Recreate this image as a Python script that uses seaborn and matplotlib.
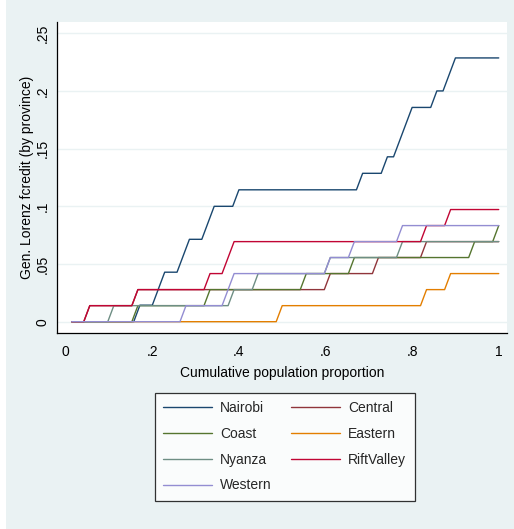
import matplotlib
matplotlib.use("Agg")
import matplotlib.pyplot as plt
from matplotlib.patches import Rectangle
import numpy as np
import pandas as pd
import seaborn as sns

# ---------------- data ----------------
provinces = ["Nairobi", "Central", "Coast", "Eastern", "Nyanza", "RiftValley", "Western"]
colors = ["#1a476f", "#90353b", "#55752f", "#e37e00", "#6e8e84", "#c10534", "#938dd2"]

nairobi_x = [0.0143, 0.1571, 0.1714, 0.2000, 0.2286, 0.2571, 0.2857, 0.3143, 0.3429, 0.3857, 0.4000,
             0.6714, 0.6857, 0.7286, 0.7429, 0.7571, 0.8000, 0.8429, 0.8571, 0.8714, 0.9000, 1.0]
nairobi_y = [0.0, 0.0, 0.0143, 0.0143, 0.0429, 0.0429, 0.0714, 0.0714, 0.1000, 0.1000, 0.1143,
             0.1143, 0.1286, 0.1286, 0.1429, 0.1429, 0.1857, 0.1857, 0.2000, 0.2000, 0.2286, 0.2286]

central_x = [0.0139, 0.0417, 0.0556, 0.1528, 0.1667, 0.5972, 0.6111, 0.7083, 0.7222, 0.8194, 0.8333, 1.0]
central_y = [0.0, 0.0, 0.0139, 0.0139, 0.0278, 0.0278, 0.0417, 0.0417, 0.0556, 0.0556, 0.0694, 0.0694]

coast_x = [0.0139, 0.1528, 0.1667, 0.3194, 0.3333, 0.5417, 0.5556, 0.6528, 0.6667, 0.9306, 0.9444, 0.9861, 1.0]
coast_y = [0.0, 0.0, 0.0139, 0.0139, 0.0278, 0.0278, 0.0417, 0.0417, 0.0556, 0.0556, 0.0694, 0.0694, 0.0833]

eastern_x = [0.0139, 0.4861, 0.5000, 0.8194, 0.8333, 0.8750, 0.8889, 1.0]
eastern_y = [0.0, 0.0, 0.0139, 0.0139, 0.0278, 0.0278, 0.0417, 0.0417]

nyanza_x = [0.0139, 0.0972, 0.1111, 0.3750, 0.3889, 0.4306, 0.4444, 0.5972, 0.6111, 0.7639, 0.7778, 1.0]
nyanza_y = [0.0, 0.0, 0.0139, 0.0139, 0.0278, 0.0278, 0.0417, 0.0417, 0.0556, 0.0556, 0.0694, 0.0694]

riftvalley_x = [0.0139, 0.0417, 0.0556, 0.1528, 0.1667, 0.3194, 0.3333, 0.3611, 0.3889, 0.8194, 0.8333, 0.8750, 0.8889, 1.0]
riftvalley_y = [0.0, 0.0, 0.0139, 0.0139, 0.0278, 0.0278, 0.0417, 0.0417, 0.0694, 0.0694, 0.0833, 0.0833, 0.0972, 0.0972]

western_x = [0.0139, 0.2639, 0.2778, 0.3611, 0.3889, 0.5972, 0.6111, 0.6528, 0.6667, 0.7639, 0.7778, 1.0]
western_y = [0.0, 0.0, 0.0139, 0.0139, 0.0417, 0.0417, 0.0556, 0.0556, 0.0694, 0.0694, 0.0833, 0.0833]

xticks = [0, 0.2, 0.4, 0.6, 0.8, 1.0]
xtick_labels = ["0", ".2", ".4", ".6", ".8", "1"]
yticks = [0, 0.05, 0.10, 0.15, 0.20, 0.25]
ytick_labels = ["0", ".05", ".1", ".15", ".2", ".25"]

series = {
    "Nairobi": (nairobi_x, nairobi_y),
    "Central": (central_x, central_y),
    "Coast": (coast_x, coast_y),
    "Eastern": (eastern_x, eastern_y),
    "Nyanza": (nyanza_x, nyanza_y),
    "RiftValley": (riftvalley_x, riftvalley_y),
    "Western": (western_x, western_y),
}

frames = []
for name in provinces:
    xs, ys = series[name]
    frames.append(pd.DataFrame({"x": xs, "y": ys, "province": name, "order": range(len(xs))}))
df = pd.concat(frames, ignore_index=True)

# ---------------- style ----------------
sns.set_theme(style="white")
plt.rcParams["font.family"] = ["Liberation Sans", "DejaVu Sans"]
fs = 10

BG = "#eaf2f3"
fig = plt.figure(figsize=(5.14, 5.29), dpi=100, facecolor=BG)
# thin white strip on the left edge of the picture
fig.patches.append(Rectangle((0, 0), 6 / 514, 1, transform=fig.transFigure,
                             facecolor="white", edgecolor="none", zorder=0))
ax = fig.add_axes([57.3 / 514, 1 - 333 / 529, (507 - 57.3) / 514, (333 - 21.7) / 529])
ax.set_facecolor("white")

sns.lineplot(data=df, x="x", y="y", hue="province", hue_order=provinces,
             palette=dict(zip(provinces, colors)), sort=False, estimator=None,
             units="province", linewidth=1.0, ax=ax, legend=True)

ax.set_xlim(-0.0194, 1.0191)
ax.set_ylim(-0.0098, 0.26)
ax.set_xticks(xticks)
ax.set_xticklabels(xtick_labels)
ax.set_yticks(yticks)
ax.set_yticklabels(ytick_labels, rotation=90, va="center")
ax.grid(axis="y", color=BG, linewidth=1.0)
ax.grid(axis="x", visible=False)
ax.set_axisbelow(True)
for s in ["top", "right"]:
    ax.spines[s].set_visible(False)
for s in ["left", "bottom"]:
    ax.spines[s].set_color("black")
    ax.spines[s].set_linewidth(0.9)
ax.tick_params(axis="both", direction="out", length=5, width=0.9, color="black",
               labelsize=fs, labelcolor="black")
ax.tick_params(axis="y", pad=0.5)
ax.tick_params(axis="x", pad=3.5)
ax.set_xlabel("Cumulative population proportion", fontsize=fs, color="black", labelpad=5)
ax.set_ylabel("Gen. Lorenz fcredit (by province)", fontsize=fs, color="black", labelpad=1)

handles, labels = ax.get_legend_handles_labels()
ax.get_legend().remove()
hmap = dict(zip(labels, handles))
order = ["Nairobi", "Coast", "Nyanza", "Western", "Central", "Eastern", "RiftValley"]
leg = fig.legend([hmap[o] for o in order], order, ncol=2, loc="upper center",
                 bbox_to_anchor=(0.554, 1 - 392.7 / 529), frameon=True, fancybox=False,
                 fontsize=fs, handlelength=3.5, handletextpad=0.6, columnspacing=1.4,
                 labelspacing=0.85, borderpad=0.6, borderaxespad=0.0)
leg.get_frame().set_edgecolor("black")
leg.get_frame().set_linewidth(0.9)
leg.get_frame().set_facecolor("white")
for line in leg.get_lines():
    line.set_linewidth(1.0)

fig.savefig("out.png", dpi=100, facecolor=BG)
